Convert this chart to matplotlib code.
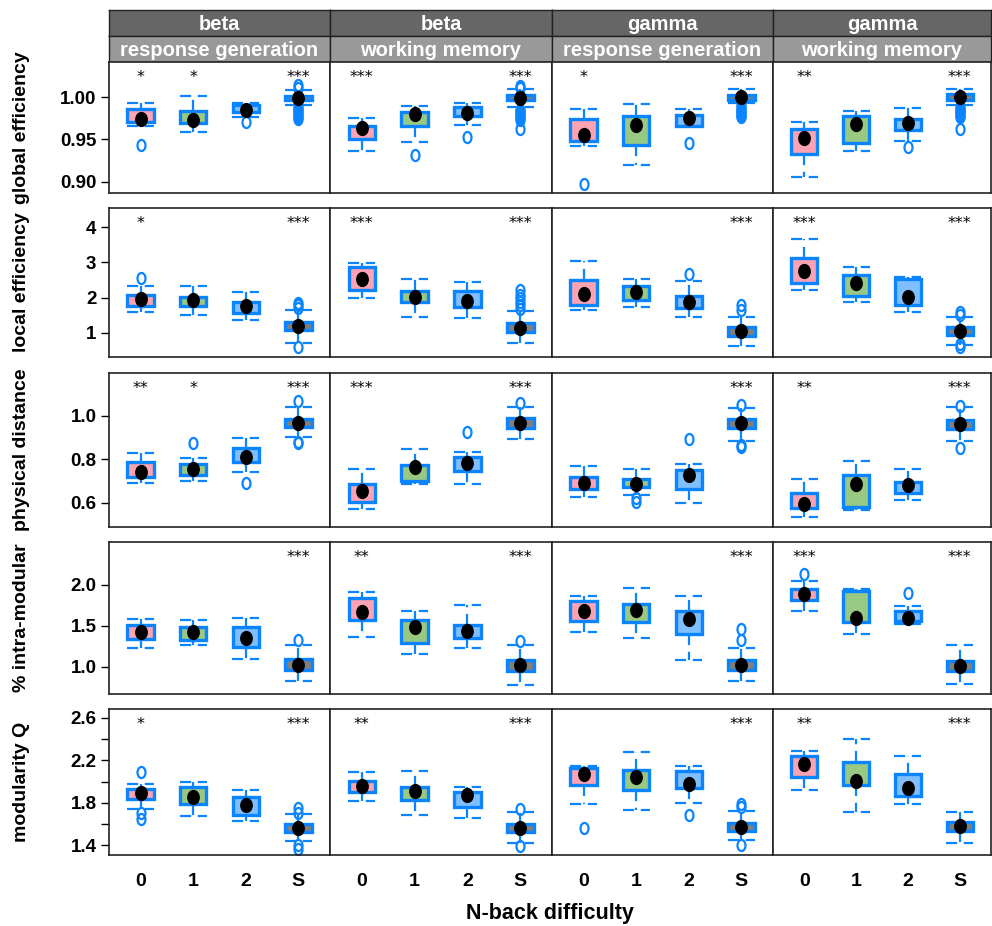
import matplotlib
matplotlib.use("Agg")
import matplotlib.pyplot as plt
from matplotlib.path import Path
from matplotlib.transforms import Affine2D

# N-back levels (S = summary / baseline condition)
levels = ["0", "1", "2", "S"]
bands = ["beta", "beta", "gamma", "gamma"]
tasks = ["response generation", "working memory", "response generation", "working memory"]
metric_labels = ["global efficiency", "local efficiency", "physical distance",
                 "% intra-modular", "modularity Q"]

# box stats per panel: (whisker low, q1, median, q3, whisker high) for 0, 1, 2, S
geff_stats = [
    [(0.966, 0.971, 0.974, 0.986, 0.993), (0.959, 0.969, 0.973, 0.983, 1.001),
     (0.977, 0.982, 0.985, 0.990, 0.993), (0.990, 0.9965, 0.999, 1.0015, 1.008)],
    [(0.936, 0.950, 0.964, 0.966, 0.975), (0.947, 0.966, 0.980, 0.982, 0.9895),
     (0.967, 0.978, 0.9816, 0.988, 0.993), (0.9887, 0.9965, 0.999, 1.002, 1.009)],
    [(0.942, 0.9485, 0.9547, 0.974, 0.986), (0.920, 0.943, 0.967, 0.978, 0.9915),
     (0.966, 0.9664, 0.975, 0.979, 0.9856), (0.993, 0.9965, 0.9996, 1.002, 1.010)],
    [(0.9056, 0.933, 0.952, 0.9625, 0.971), (0.937, 0.946, 0.968, 0.978, 0.983),
     (0.9485, 0.9614, 0.969, 0.974, 0.9875), (0.990, 0.997, 1.000, 1.003, 1.009)],
]
geff_fliers = [
    [[0.943], [], [0.971],
     [1.011, 1.014, 0.988, 0.986, 0.984, 0.982, 0.980, 0.978, 0.976, 0.974]],
    [[], [0.932], [0.9535],
     [1.011, 1.013, 0.985, 0.983, 0.981, 0.979, 0.977, 0.975, 0.973, 0.962]],
    [[0.898], [], [0.946],
     [0.990, 0.988, 0.986, 0.984, 0.982, 0.980, 0.978, 0.976]],
    [[], [], [0.9407],
     [0.988, 0.986, 0.984, 0.982, 0.980, 0.978, 0.976, 0.9625]],
]

leff_stats = [
    [(1.59, 1.76, 1.97, 2.08, 2.33), (1.51, 1.76, 1.93, 2.03, 2.34),
     (1.36, 1.58, 1.76, 1.89, 2.17), (0.73, 1.085, 1.20, 1.32, 1.65)],
    [(1.99, 2.23, 2.52, 2.87, 2.97), (1.46, 1.87, 2.02, 2.19, 2.52),
     (1.43, 1.73, 1.90, 2.19, 2.44), (0.72, 1.02, 1.14, 1.27, 1.61)],
    [(1.65, 1.78, 2.11, 2.51, 3.04), (1.75, 1.94, 2.16, 2.32, 2.52),
     (1.46, 1.70, 1.87, 2.04, 2.47), (0.64, 0.92, 1.06, 1.18, 1.46)],
    [(2.23, 2.42, 2.75, 3.11, 3.65), (1.87, 2.06, 2.42, 2.63, 2.87),
     (1.59, 1.80, 2.02, 2.52, 2.58), (0.66, 0.94, 1.06, 1.16, 1.46)],
]
leff_fliers = [
    [[2.56], [], [], [1.72, 1.80, 1.86, 0.60]],
    [[], [], [], [1.68, 1.78, 1.88, 1.98, 2.08, 2.21]],
    [[], [], [2.68], [1.66, 1.80]],
    [[], [], [], [1.52, 1.60, 0.60, 0.68]],
]

dist_stats = [
    [(0.689, 0.72, 0.743, 0.789, 0.827), (0.70, 0.727, 0.753, 0.778, 0.804),
     (0.743, 0.789, 0.811, 0.85, 0.896), (0.90, 0.947, 0.968, 0.985, 1.038)],
    [(0.57, 0.602, 0.654, 0.686, 0.755), (0.686, 0.70, 0.763, 0.773, 0.845),
     (0.686, 0.746, 0.781, 0.809, 0.832), (0.891, 0.942, 0.965, 0.988, 1.038)],
    [(0.628, 0.662, 0.689, 0.72, 0.769), (0.635, 0.671, 0.685, 0.708, 0.755),
     (0.60, 0.662, 0.727, 0.75, 0.778), (0.885, 0.942, 0.965, 0.983, 1.035)],
    [(0.533, 0.577, 0.594, 0.643, 0.708), (0.567, 0.582, 0.686, 0.727, 0.792),
     (0.612, 0.646, 0.681, 0.697, 0.753), (0.885, 0.937, 0.962, 0.98, 1.038)],
]
dist_fliers = [
    [[], [0.873], [0.689], [1.069, 0.88, 0.874]],
    [[], [], [0.926], [1.06]],
    [[], [0.62, 0.605], [0.893], [1.048, 0.865, 0.855]],
    [[], [], [], [1.046, 0.85]],
]

intra_stats = [
    [(1.225, 1.34, 1.43, 1.51, 1.58), (1.27, 1.33, 1.42, 1.48, 1.57),
     (1.10, 1.24, 1.35, 1.49, 1.59), (0.83, 0.96, 1.02, 1.09, 1.27)],
    [(1.36, 1.57, 1.67, 1.84, 1.91), (1.155, 1.29, 1.48, 1.57, 1.68),
     (1.23, 1.35, 1.44, 1.51, 1.75), (0.78, 0.95, 1.02, 1.08, 1.26)],
    [(1.43, 1.56, 1.68, 1.80, 1.865), (1.35, 1.55, 1.69, 1.77, 1.96),
     (1.08, 1.40, 1.58, 1.68, 1.865), (0.82, 0.96, 1.02, 1.08, 1.225)],
    [(1.68, 1.82, 1.89, 1.95, 2.05), (1.40, 1.55, 1.59, 1.93, 1.95),
     (1.52, 1.56, 1.60, 1.68, 1.74), (0.79, 0.95, 1.01, 1.07, 1.265)],
]
intra_fliers = [
    [[], [], [], [1.33]],
    [[], [], [], [1.31]],
    [[], [], [], [1.33, 1.46]],
    [[2.14], [], [1.90], []],
]

modq_stats = [
    [(1.74, 1.835, 1.89, 1.93, 1.977), (1.67, 1.79, 1.857, 1.945, 2.0),
     (1.63, 1.68, 1.78, 1.85, 1.92), (1.44, 1.525, 1.56, 1.60, 1.69)],
    [(1.82, 1.90, 1.96, 2.005, 2.09), (1.68, 1.825, 1.91, 1.95, 2.10),
     (1.66, 1.755, 1.87, 1.90, 1.945), (1.416, 1.52, 1.56, 1.60, 1.715)],
    [(1.79, 1.967, 2.07, 2.125, 2.145), (1.73, 1.92, 2.04, 2.11, 2.276),
     (1.80, 1.935, 1.98, 2.10, 2.145), (1.45, 1.53, 1.573, 1.61, 1.725)],
    [(1.92, 2.04, 2.165, 2.24, 2.29), (1.71, 1.967, 2.005, 2.18, 2.40),
     (1.79, 1.863, 1.935, 2.07, 2.24), (1.42, 1.535, 1.58, 1.62, 1.715)],
]
modq_fliers = [
    [[2.09, 1.70, 1.65], [], [], [1.70, 1.75, 1.40, 1.36]],
    [[], [], [], [1.74, 1.39]],
    [[1.56], [], [1.68], [1.76, 1.79, 1.40]],
    [[], [], [], []],
]

# significance marks per panel, one entry per level
geff_stars = [["*", "*", "", "***"], ["***", "", "", "***"], ["*", "", "", "***"], ["**", "", "", "***"]]
leff_stars = [["*", "", "", "***"], ["***", "", "", "***"], ["", "", "", "***"], ["***", "", "", "***"]]
dist_stars = [["**", "*", "", "***"], ["***", "", "", "***"], ["", "", "", "***"], ["**", "", "", "***"]]
intra_stars = [["", "", "", "***"], ["**", "", "", "***"], ["", "", "", "***"], ["***", "", "", "***"]]
modq_stars = [["*", "", "", "***"], ["**", "", "", "***"], ["", "", "", "***"], ["**", "", "", "***"]]

# axis setup per metric row
ylims = [(0.887, 1.0412), (0.32, 4.54), (0.488, 1.196), (0.666, 2.526), (1.306, 2.685)]
yticks = [[0.90, 0.95, 1.00], [1, 2, 3, 4], [0.6, 0.8, 1.0], [1.0, 1.5, 2.0],
          [1.4, 1.6, 1.8, 2.0, 2.2, 2.4, 2.6]]
ytick_labels = [["0.90", "0.95", "1.00"], ["1", "2", "3", "4"], ["0.6", "0.8", "1.0"],
                ["1.0", "1.5", "2.0"], ["1.4", "", "1.8", "", "2.2", "", "2.6"]]

all_stats = [geff_stats, leff_stats, dist_stats, intra_stats, modq_stats]
all_fliers = [geff_fliers, leff_fliers, dist_fliers, intra_fliers, modq_fliers]
all_stars = [geff_stars, leff_stars, dist_stars, intra_stars, modq_stars]

# styling
EDGE = "#0a84ff"
FILLS = ["#fca3b3", "#98c882", "#80bfff", "#7f7f7f"]
STRIP_TOP = "#666666"
STRIP_BOT = "#999999"
BOLD = ["Liberation Sans", "DejaVu Sans"]

W, H = 992, 926
col_edges = [109, 330, 552, 773, 991]
row_edges = [(62, 193), (208, 357), (373, 527), (542, 694), (709, 855)]


def px_rect(x0, y0, x1, y1):
    return [x0 / W, 1 - y1 / H, (x1 - x0) / W, (y1 - y0) / H]


dot = Path.unit_circle().transformed(Affine2D().scale(0.82, 1.0))
ring = Path.unit_circle().transformed(Affine2D().scale(0.72, 1.0))

fig = plt.figure(figsize=(W / 100, H / 100), dpi=100)
positions = [1, 2, 3, 4]

# strips on top of each column
for c in range(4):
    for (y0, y1), txt, fc in [((10, 36), bands[c], STRIP_TOP), ((36, 62), tasks[c], STRIP_BOT)]:
        sax = fig.add_axes(px_rect(col_edges[c], y0, col_edges[c + 1], y1))
        sax.set_facecolor(fc)
        sax.set_xticks([])
        sax.set_yticks([])
        for sp in sax.spines.values():
            sp.set_color("#222222")
            sp.set_linewidth(1.0)
        sax.text(0.5, 0.45, txt, transform=sax.transAxes, ha="center", va="center",
                 color="white", fontsize=14.5, fontweight="bold", family=BOLD)

for r in range(5):
    y0, y1 = row_edges[r]
    for c in range(4):
        ax = fig.add_axes(px_rect(col_edges[c], y0, col_edges[c + 1], y1))
        stats = []
        for (lo, q1, med, q3, hi), fl in zip(all_stats[r][c], all_fliers[r][c]):
            stats.append(dict(whislo=lo, q1=q1, med=med, q3=q3, whishi=hi, fliers=fl))
        bp = ax.bxp(stats, positions=positions, widths=0.5, capwidths=0.52,
                    patch_artist=True, showfliers=True,
                    boxprops=dict(edgecolor=EDGE, linewidth=2.4),
                    whiskerprops=dict(color=EDGE, linewidth=1.6, linestyle=(0, (5, 3))),
                    capprops=dict(color=EDGE, linewidth=1.6, linestyle=(0, (5, 3))),
                    medianprops=dict(linewidth=0),
                    flierprops=dict(marker=ring, markersize=8, markerfacecolor="none",
                                    markeredgecolor=EDGE, markeredgewidth=1.6))
        for patch, fc in zip(bp["boxes"], FILLS):
            patch.set_facecolor(fc)
        meds = [s["med"] for s in stats]
        ax.plot(positions, meds, linestyle="none", marker=dot, markersize=10,
                color="black", zorder=5)

        for x, s in zip(positions, all_stars[r][c]):
            if s:
                ax.annotate(s, xy=(x, 1), xycoords=("data", "axes fraction"),
                            xytext=(0, -11), textcoords="offset points",
                            ha="center", va="center", fontsize=11.5)

        ax.set_xlim(0.4, 4.6)
        ax.set_ylim(*ylims[r])
        for sp in ax.spines.values():
            sp.set_color("#222222")
            sp.set_linewidth(1.2)
        if c == 0:
            ax.set_yticks(yticks[r])
            ax.set_yticklabels(ytick_labels[r], fontsize=13.5, fontweight="bold",
                               family=BOLD)
            ax.tick_params(axis="y", length=6, width=1, direction="out", pad=3)
        else:
            ax.set_yticks([])
        if r == 4:
            ax.set_xticks(positions)
            ax.set_xticklabels(levels, fontsize=14, fontweight="bold", family=BOLD)
            ax.tick_params(axis="x", length=0, pad=13)
        else:
            ax.set_xticks([])

    fig.text(22 / W, 1 - (y0 + y1) / 2 / H, metric_labels[r], rotation=90,
             ha="center", va="center", fontsize=14, fontweight="bold", family=BOLD)

fig.text((col_edges[0] + col_edges[-1]) / 2 / W, 1 - 913 / H, "N-back difficulty",
         ha="center", va="center", fontsize=15.5, fontweight="bold", family=BOLD)

fig.savefig("out.png", dpi=100)
